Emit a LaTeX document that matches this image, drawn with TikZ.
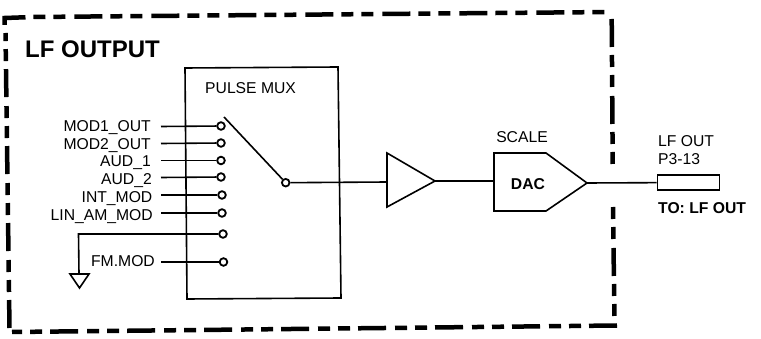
\documentclass[tikz,border=0pt]{standalone}
\usepackage{fontspec}
\setmainfont{Liberation Sans}
\tikzset{
  lbl/.style={inner sep=0pt,font=\fontsize{15.7}{18}\selectfont},
  lblr/.style={lbl,anchor=base east},
  lbll/.style={lbl,anchor=base west},
  blbl/.style={lbl,font=\fontsize{15.7}{18}\selectfont\bfseries},
  term/.style={circle,draw,line width=1.8pt,fill=white,minimum size=7.6pt,inner sep=0pt},
  wire/.style={line width=1.6pt},
  part/.style={line width=1.6pt,line join=miter},
  bord/.style={line width=4.5pt,dash pattern=on 28pt off 8pt on 12pt off 8pt on 12pt off 9pt}
}
\begin{document}
\begin{tikzpicture}[x=1pt,y=-1pt]
\useasboundingbox (0,0) rectangle (761,339);
% dashed frame
\draw[bord] (4.5,25) -- (4.5,18) -- (33,17) -- (612,12);
\draw[bord] (611.7,19) -- (612.7,164);
\draw[bord,dash phase=36pt] (613,207) -- (614.5,322);
\draw[bord] (617,325.5) -- (12,332);
\draw[bord] (9.5,328) -- (5.5,33);
% title
\node[inner sep=0pt,anchor=base west,font=\fontsize{24}{28}\selectfont\bfseries] (title) at (25,57.5) {LF OUTPUT};
% mux box
\draw[part] (185,68) -- (338,67) -- (341,298) -- (187,299) -- cycle;
\node[lbll] (muxl) at (205,93.5) {PULSE MUX};
% terminals
\node[term] (t1) at (221,126) {};
\node[term] (t2) at (221,143) {};
\node[term] (t3) at (221,160.5) {};
\node[term] (t4) at (221,177) {};
\node[term] (t5) at (222,195) {};
\node[term] (t6) at (222,213) {};
\node[term] (t7) at (223,234) {};
\node[term] (t8) at (223.5,262) {};
\node[term] (pole) at (285.7,182.7) {};
% labels
\node[lblr] (l1) at (151,132) {MOD1\_OUT};
\node[lblr] (l2) at (151,149.5) {MOD2\_OUT};
\node[lblr] (l3) at (151,167) {AUD\_1};
\node[lblr] (l4) at (152,185) {AUD\_2};
\node[lblr] (l5) at (152.5,202.5) {INT\_MOD};
\node[lblr] (l6) at (153,220.5) {LIN\_AM\_MOD};
\node[lblr] (l8) at (155,266.5) {FM.MOD};
% wire free ends
\coordinate (c1) at (161,126.5);
\coordinate (c2) at (161,143.5);
\coordinate (c3) at (161,160.5);
\coordinate (c4) at (161,177.5);
\coordinate (c5) at (161,195);
\coordinate (c6) at (161,213);
\coordinate (c8) at (161,262);
\coordinate (armend) at (224,117);
\draw[wire] (c1) -- (t1);
\draw[wire] (c2) -- (t2);
\draw[wire] (c3) -- (t3);
\draw[wire] (c4) -- (t4);
\draw[wire] (c5) -- (t5);
\draw[wire] (c6) -- (t6);
\draw[wire] (c8) -- (t8);
\draw[wire] (armend) -- (pole);
% ground
\coordinate (gtop) at (79,274);
\draw[wire] (t7) -- (78.5,234) -- (gtop);
\draw[part] (70,274) -- (89,274) -- (79.5,288) -- cycle;
% amplifier
\coordinate (ampin) at (387,182);
\coordinate (amptip) at (435,181);
\draw[part] (387,153) -- (amptip) -- (387,207) -- cycle;
\draw[wire] (pole) -- (ampin);
% DAC
\coordinate (dacin) at (494,181);
\coordinate (dactip) at (587,183);
\draw[part] (494,153) -- (546,153) -- (dactip) -- (546,211) -- (494,211) -- cycle;
\draw[wire] (amptip) -- (dacin);
\node[blbl] (dac) at (528,184) {DAC};
\node[lbl] (scale) at (522,137) {SCALE};
% output connector
\node[draw,line width=1.6pt,minimum width=62pt,minimum height=15pt,inner sep=0pt] (outc) at (688.5,182.5) {};
\draw[wire] (dactip) -- (outc);
\node[lbll] (o1) at (658,146.5) {LF OUT};
\node[lbll] (o2) at (658,164.5) {P3-13};
\node[blbl,anchor=base west] (o3) at (658,213.5) {TO: LF OUT};
\end{tikzpicture}
\end{document}
